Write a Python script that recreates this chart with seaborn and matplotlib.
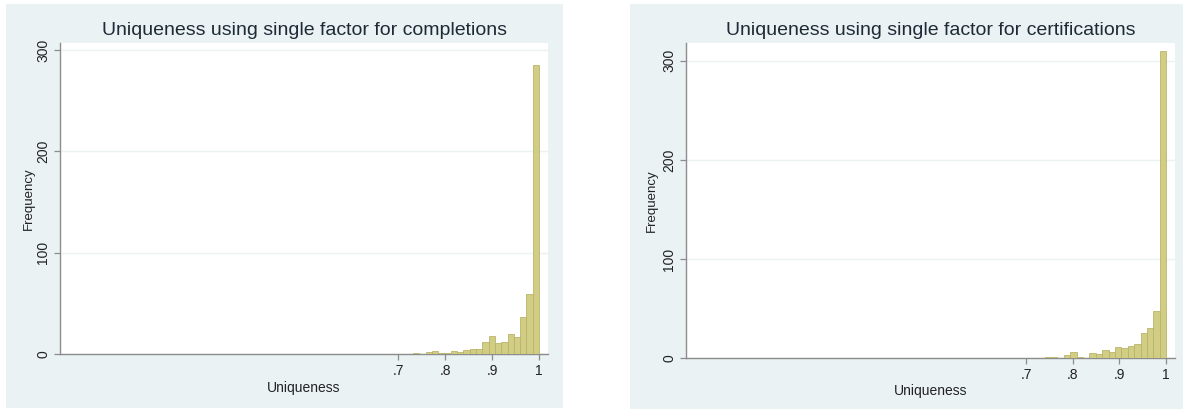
import numpy as np
import pandas as pd
import matplotlib
matplotlib.use("Agg")
import matplotlib.pyplot as plt
from matplotlib.patches import Rectangle
import seaborn as sns

# Histogramme (Stata style) - frequences
comp_start = 0.732
comp_width = 0.0134
comp_freq = [1, 0, 2, 3, 1, 1, 3, 2, 4, 5, 5, 12, 18, 11, 12, 20, 17, 37, 59, 285]

cert_start = 0.740
cert_width = 0.0137
cert_freq = [1, 1, 0, 3, 6, 1, 0, 5, 4, 8, 6, 11, 10, 12, 14, 25, 30, 47, 310]

titles = ["Uniqueness using single factor for completions",
          "Uniqueness using single factor for certifications"]
x_ticks = [0.7, 0.8, 0.9, 1.0]
x_ticklabels = [".7", ".8", ".9", "1"]
y_ticks = [0, 100, 200, 300]

BG = "#EAF2F3"
BAR = "#D2CD84"
BAR_EDGE = "#BAB46A"
AXIS = "#8C8C8C"
TEXT = "#1E2A36"

sns.set_theme(style="white")
plt.rcParams["font.family"] = ["Liberation Sans", "DejaVu Sans"]

W, H = 1183, 411
fig = plt.figure(figsize=(W / 100, H / 100), dpi=100)
fig.patch.set_facecolor("white")


def px_box(x0, y0, x1, y1):
    return [x0 / W, 1 - y1 / H, (x1 - x0) / W, (y1 - y0) / H]


# fonds gris-bleu des deux graphiques
for (x0, y0, x1, y1) in [(6, 4, 563, 408), (630, 4, 1183, 409)]:
    b = px_box(x0, y0, x1, y1)
    fig.patches.append(Rectangle((b[0], b[1]), b[2], b[3], transform=fig.transFigure,
                                 facecolor=BG, edgecolor="none", zorder=-10))

panels = [
    dict(box=(60, 43, 548, 354), start=comp_start, width=comp_width, freq=comp_freq,
         xlim=(-0.019, 1.019), ylim=(0, 307), ylab_x=-0.051, xlab_y=-0.088),
    dict(box=(686, 43, 1175, 358), start=cert_start, width=cert_width, freq=cert_freq,
         xlim=(-0.028, 1.019), ylim=(0, 318), ylab_x=-0.057, xlab_y=-0.083),
]

for p, title in zip(panels, titles):
    ax = fig.add_axes(px_box(*p["box"]))
    ax.set_facecolor("white")
    n = len(p["freq"])
    edges = [p["start"] + p["width"] * k for k in range(n + 1)]
    centers = [(a + b) / 2 for a, b in zip(edges[:-1], edges[1:])]
    df = pd.DataFrame({"uniqueness": centers, "freq": p["freq"]})
    sns.histplot(data=df, x="uniqueness", weights="freq", bins=edges, ax=ax,
                 color=BAR, edgecolor=BAR_EDGE, linewidth=0.6, alpha=1, zorder=3)

    ax.set_xlim(*p["xlim"])
    ax.set_ylim(*p["ylim"])
    ax.set_xticks(x_ticks)
    ax.set_xticklabels(x_ticklabels)
    ax.set_yticks(y_ticks)
    ax.set_yticklabels([str(v) for v in y_ticks], rotation=90, va="center")
    ax.grid(axis="y", color=BG, linewidth=1.0, zorder=0)
    ax.grid(axis="x", visible=False)

    for s in ["top", "right"]:
        ax.spines[s].set_visible(False)
    for s in ["left", "bottom"]:
        ax.spines[s].set_color(AXIS)
        ax.spines[s].set_linewidth(1.0)
    ax.tick_params(axis="both", direction="out", length=4, width=0.9, color=AXIS,
                   labelsize=10, labelcolor="#222222", pad=3, left=True, bottom=True)

    ax.set_title(title, fontsize=14, color=TEXT, pad=6)
    ax.set_xlabel("Uniqueness", fontsize=10, color="#222222")
    ax.set_ylabel("Frequency", fontsize=9.5, color="#222222")
    ax.xaxis.set_label_coords(0.5, p["xlab_y"])
    ax.yaxis.set_label_coords(p["ylab_x"], 0.5)

fig.savefig("out.png", dpi=100)
